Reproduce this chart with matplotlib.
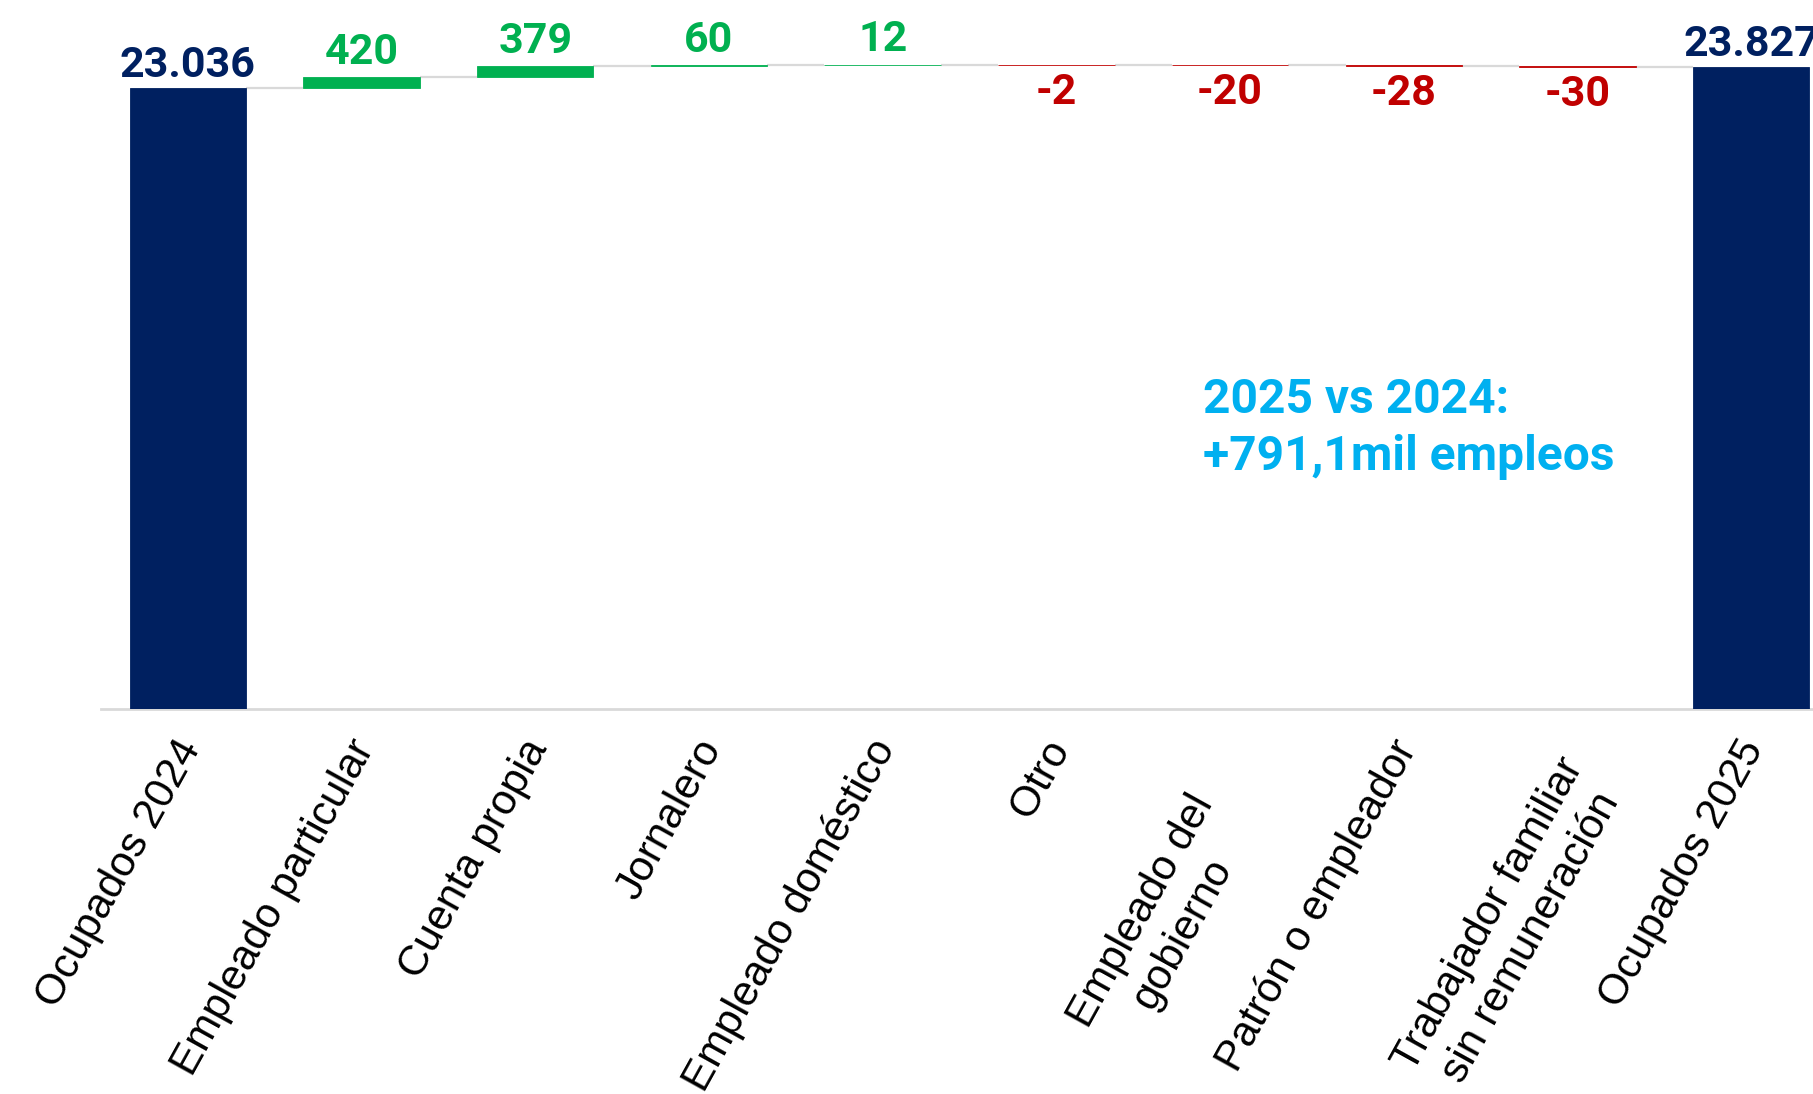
import matplotlib
matplotlib.use("Agg")
import matplotlib.pyplot as plt
from matplotlib.transforms import ScaledTranslation
import numpy as np

# ---- data ----
categories = ["Ocupados 2024", "Empleado particular", "Cuenta propia", "Jornalero",
              "Empleado doméstico", "Otro", "Empleado del\ngobierno", "Patrón o empleador",
              "Trabajador familiar\nsin remuneración", "Ocupados 2025"]
total_start = 23036
changes = [420, 379, 60, 12, -2, -20, -28, -30]
total_end = 23827
annotation = "2025 vs 2024:\n+791,1mil empleos"

NAVY = "#002060"
GREEN = "#00B050"
RED = "#C00000"
CYAN = "#00B0F0"
GREY = "#D9D9D9"

W, H, DPI = 1813, 1094, 100
fig = plt.figure(figsize=(W / DPI, H / DPI), dpi=DPI)
ax = fig.add_axes([101 / W, (H - 709) / H, 1737 / W, 709 / H])

n = len(categories)
x = np.arange(n)
bw = 0.67

bottoms = [0]
heights = [total_start]
colors = [NAVY]
running = total_start
levels = [total_start]
for c in changes:
    if c >= 0:
        bottoms.append(running)
        heights.append(c)
        colors.append(GREEN)
    else:
        bottoms.append(running + c)
        heights.append(-c)
        colors.append(RED)
    running += c
    levels.append(running)
bottoms.append(0)
heights.append(total_end)
colors.append(NAVY)
levels.append(total_end)

ax.bar(x, heights, bottom=bottoms, width=bw, color=colors, edgecolor=colors,
       linewidth=0.6, zorder=3)

for i in range(n - 1):
    ax.plot([x[i] + bw / 2, x[i + 1] - bw / 2], [levels[i], levels[i]],
            color=GREY, lw=1.6, zorder=2, solid_capstyle="butt")

num_font = dict(family="Roboto", weight="bold", fontsize=31)
for i, v in [(0, total_start), (n - 1, total_end)]:
    ax.annotate(f"{v:,}".replace(",", "."), (x[i], v), xytext=(0, 1.5),
                textcoords="offset points", ha="center", va="bottom",
                color=NAVY, annotation_clip=False, **num_font)
for k, c in enumerate(changes):
    i = k + 1
    top = bottoms[i] + heights[i]
    if c >= 0:
        ax.annotate(f"{c}", (x[i], top), xytext=(0, 3), textcoords="offset points",
                    ha="center", va="bottom", color=GREEN, **num_font)
    else:
        ax.annotate(f"{c}", (x[i], bottoms[i]), xytext=(0, -5), textcoords="offset points",
                    ha="center", va="top", color=RED, **num_font)

ax.set_xlim(-0.5, n - 0.5)
ax.set_ylim(0, 26300)
ax.set_yticks([])
for s in ["top", "right", "left"]:
    ax.spines[s].set_visible(False)
ax.spines["bottom"].set_color(GREY)
ax.spines["bottom"].set_linewidth(2)

ax.set_xticks(x)
ax.set_xticklabels(categories, rotation=61, ha="right", va="top",
                   multialignment="center", family="Liberation Sans", fontsize=30.5,
                   linespacing=1.25)
ax.tick_params(axis="x", length=0, pad=17)
# extra pixel offsets (dx, dy) for wrapped labels
extra = {6: (12, -55), 8: (35, -18)}
for i, lab in enumerate(ax.get_xticklabels()):
    dx, dy = extra.get(i, (0, 0))
    lab.set_transform(lab.get_transform() +
                      ScaledTranslation((21 + dx) / DPI, dy / DPI, fig.dpi_scale_trans))

fig.text(1203 / W, 1 - 470 / H, annotation, ha="left", va="baseline", color=CYAN,
         family="Roboto", weight="bold", fontsize=34.5, linespacing=1.3)

fig.savefig("out.png", dpi=DPI)
